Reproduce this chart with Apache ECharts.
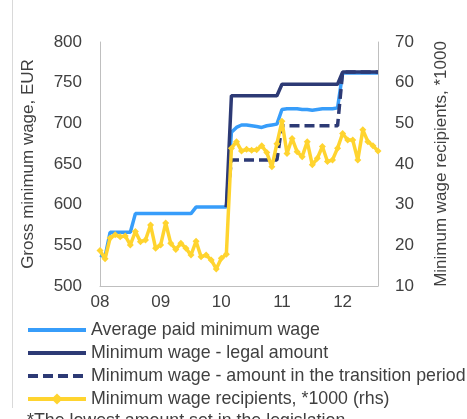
<!DOCTYPE html>
<html>
<head>
<meta charset="utf-8">
<script src="https://cdn.jsdelivr.net/npm/echarts@6/dist/echarts.min.js"></script>
<style>
  html, body { margin: 0; padding: 0; background: #fff; }
  #chart { width: 467px; height: 419px; }
</style>
</head>
<body>
<div id="chart"></div>
<script>
// monthly, Jan 2008 .. Aug 2012
var months = [];
for (var y = 2008; y <= 2012; y++) {
  for (var m = 1; m <= 12; m++) {
    if (months.length < 56) months.push(y + '-' + (m < 10 ? '0' + m : m));
  }
}
var yearTicks = ['08', '09', '10', '11', '12'];

var avgPaid = [
  538, 536, 566, 566, 566, 566, 566, 589, 589, 589, 589, 589,
  589, 589, 589, 589, 589, 589, 589, 597, 597, 597, 597, 597,
  597, 597, 689, 695, 698, 698, 697, 696, 695, 697, 698, 699,
  717, 718, 718, 718, 717, 717, 716, 717, 718, 718, 718, 719,
  762, 762, 762, 762, 762, 762, 762, 762
];
var legalAmount = [
  null, null, null, null, null, null, null, null, null, null, null, null,
  null, null, null, null, null, null, null, null, null, null, null, null,
  null, 597, 734, 734, 734, 734, 734, 734, 734, 734, 734, 734,
  748, 748, 748, 748, 748, 748, 748, 748, 748, 748, 748, 748,
  763, 763, 763, 763, 763, 763, 763, 763
];
var transitionAmount = [
  null, null, null, null, null, null, null, null, null, null, null, null,
  null, null, null, null, null, null, null, null, null, null, null, null,
  null, 597, 655, 655, 655, 655, 655, 655, 655, 655, 655, 655,
  697, 697, 697, 697, 697, 697, 697, 697, 697, 697, 697, 697,
  763, 763, 763, 763, 763, 763, 763, 763
];
// thousands of people (rhs)
var recipients = [
  18.7, 16.7, 21.8, 22.6, 22.1, 22.3, 20.1, 23.4, 20.9, 21.3, 25.0, 19.3,
  20.1, 25.5, 20.5, 19.0, 20.5, 19.3, 17.6, 21.0, 17.2, 17.6, 16.4, 14.2,
  16.8, 17.8, 43.9, 45.5, 43.2, 43.6, 43.4, 43.5, 44.5, 42.8, 39.3, 45.0,
  50.5, 42.6, 46.3, 43.0, 41.8, 45.5, 39.8, 41.4, 44.3, 40.6, 41.0, 43.9,
  47.5, 45.9, 45.9, 41.0, 48.4, 45.5, 44.5, 43.2
];

var txt = '#404040';
var axisGrey = '#BFBFBF';
var font = 'Liberation Sans, Arial, sans-serif';
var noMarker = { opacity: 0 };

var myChart = echarts.init(document.getElementById('chart'));
var option = {
  backgroundColor: '#fff',
  animation: false,
  textStyle: { fontFamily: font },
  grid: { left: 100, right: 89, top: 42, bottom: 133 },
  legend: {
    orient: 'vertical',
    left: 26,
    top: 320,
    padding: 0,
    itemWidth: 58,
    itemHeight: 14,
    itemGap: 3,
    lineStyle: { width: 4 },
    textStyle: { fontSize: 17.8, color: txt, lineHeight: 20, fontFamily: font },
    data: [
      { name: 'Average paid minimum wage', itemStyle: noMarker },
      { name: 'Minimum wage - legal amount', itemStyle: noMarker },
      { name: 'Minimum wage - amount in the transition period', itemStyle: noMarker },
      { name: 'Minimum wage recipients, *1000 (rhs)' }
    ]
  },
  xAxis: {
    type: 'category',
    data: months,
    boundaryGap: false,
    axisLine: { lineStyle: { color: axisGrey, width: 1 } },
    axisTick: { show: false },
    axisLabel: {
      interval: 11,
      margin: 8,
      fontSize: 17,
      color: txt,
      formatter: function (v) { return yearTicks[parseInt(v.slice(0, 4)) - 2008]; }
    },
    splitLine: { show: false }
  },
  yAxis: [{
    type: 'value',
    min: 500, max: 800, interval: 50,
    name: 'Gross minimum wage, EUR',
    nameLocation: 'middle',
    nameRotate: 90,
    nameGap: 63,
    nameTextStyle: { fontSize: 17, color: txt },
    axisLine: { show: true, lineStyle: { color: axisGrey, width: 1 } },
    axisTick: { show: false },
    axisLabel: { margin: 18, fontSize: 17, color: txt },
    splitLine: { show: false }
  }, {
    type: 'value',
    min: 10, max: 70, interval: 10,
    name: 'Minimum wage recipients, *1000',
    nameLocation: 'middle',
    nameRotate: 90,
    nameGap: 55,
    nameTextStyle: { fontSize: 17, color: txt },
    axisLine: { show: true, lineStyle: { color: axisGrey, width: 1 } },
    axisTick: { show: false },
    axisLabel: { margin: 17, fontSize: 17, color: txt },
    splitLine: { show: false }
  }],
  graphic: [{
    type: 'line',
    shape: { x1: 12.5, y1: 0, x2: 12.5, y2: 408 },
    style: { stroke: '#D9D9D9', lineWidth: 1 }
  }, {
    type: 'text',
    left: 27,
    top: 412,
    style: { text: '*The lowest amount set in the legislation', fontSize: 17.8, fill: txt, fontFamily: font }
  }],
  series: [{
    name: 'Average paid minimum wage',
    type: 'line',
    data: avgPaid,
    symbol: 'none',
    lineStyle: { color: '#379DFA', width: 3.5 },
    itemStyle: { color: '#379DFA' }
  }, {
    name: 'Minimum wage - legal amount',
    type: 'line',
    data: legalAmount,
    symbol: 'none',
    lineStyle: { color: '#2D3A75', width: 3.5 },
    itemStyle: { color: '#2D3A75' }
  }, {
    name: 'Minimum wage - amount in the transition period',
    type: 'line',
    data: transitionAmount,
    symbol: 'none',
    lineStyle: { color: '#2D3A75', width: 3.5, type: [10, 5] },
    itemStyle: { color: '#2D3A75' }
  }, {
    name: 'Minimum wage recipients, *1000 (rhs)',
    type: 'line',
    yAxisIndex: 1,
    data: recipients,
    symbol: 'diamond',
    symbolSize: 7,
    showAllSymbol: true,
    lineStyle: { color: '#FFD42F', width: 3.5 },
    itemStyle: { color: '#FFD42F' }
  }]
};
myChart.setOption(option);
window.addEventListener('resize', function () { myChart.resize(); });
</script>
</body>
</html>
